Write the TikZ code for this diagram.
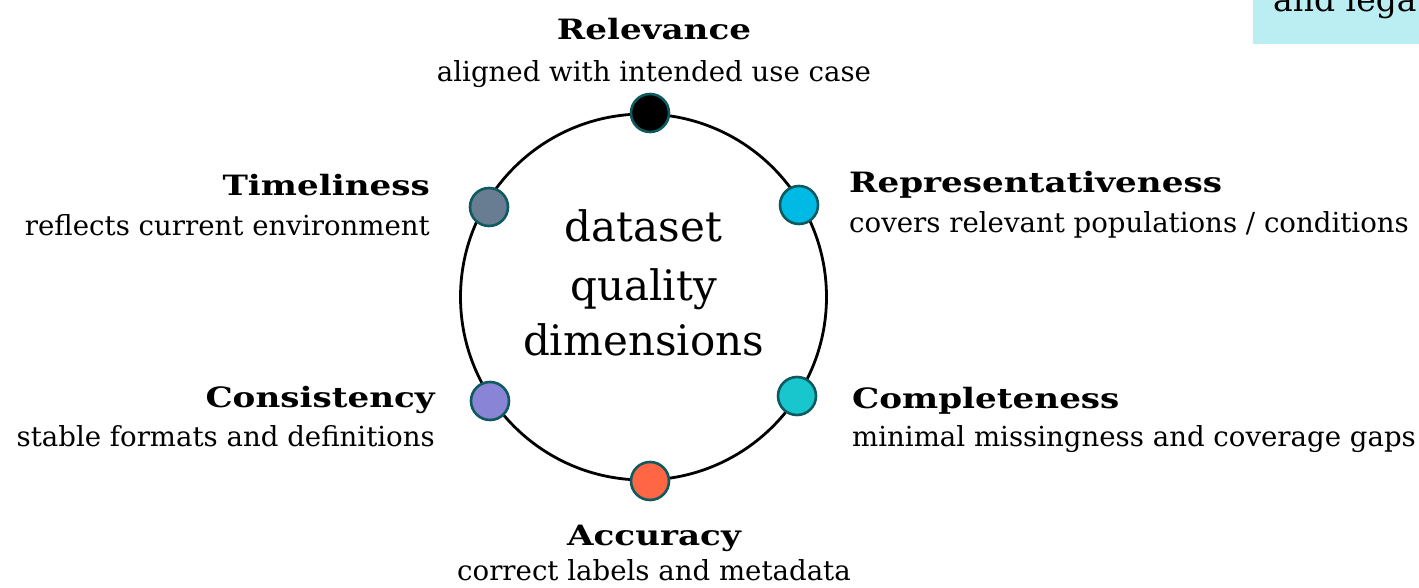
\documentclass[tikz,border=0pt]{standalone}
\usepackage{fontspec}
\setmainfont[BoldFeatures={FakeStretch=1.22}]{DejaVu Serif}
\definecolor{dotedge}{RGB}{14,90,94}
\definecolor{cRel}{RGB}{0,0,0}
\definecolor{cRep}{RGB}{0,186,230}
\definecolor{cCom}{RGB}{24,198,206}
\definecolor{cAcc}{RGB}{255,102,68}
\definecolor{cCon}{RGB}{138,132,214}
\definecolor{cTim}{RGB}{104,124,146}
\definecolor{boxfill}{RGB}{186,238,242}
\tikzset{
  qdot/.style={circle, draw=dotedge, line width=2.6pt, minimum size=38pt, inner sep=0pt},
  qtitle/.style={font=\fontsize{28}{32}\selectfont\bfseries, inner sep=0pt},
  qdesc/.style={font=\fontsize{27.6}{32}\selectfont, inner sep=0pt},
  qcenter/.style={font=\fontsize{42}{50}\selectfont, inner sep=0pt, anchor=base},
}
\begin{document}
\begin{tikzpicture}[x=1pt,y=-1pt]
\useasboundingbox (0,0) rectangle (1419,588);
% cropped box at top right
\begin{scope}
\clip (0,0) rectangle (1419,588);
\fill[boxfill] (1253,-20) rectangle (1440,44);
\node[font=\fontsize{33}{38}\selectfont, inner sep=0pt, anchor=base west] (legal) at (1273,12) {and lega};
\end{scope}
% ring
\node[circle, draw=black, line width=2.8pt, minimum size=366pt, inner sep=0pt] (ring) at (643.5,297) {};
% center text
\node[qcenter] (c1) at (643.5,242) {dataset};
\node[qcenter] (c2) at (643.5,300) {quality};
\node[qcenter] (c3) at (643.5,355) {dimensions};
% dots
\node[qdot, fill=cRel] (dRel) at (650,113) {};
\node[qdot, fill=cRep] (dRep) at (799,205) {};
\node[qdot, fill=cCom] (dCom) at (797,396) {};
\node[qdot, fill=cAcc] (dAcc) at (650,481) {};
\node[qdot, fill=cCon] (dCon) at (490,401) {};
\node[qdot, fill=cTim] (dTim) at (489,207) {};
% labels
\node[qtitle, anchor=base] (tRel) at (654,40) {Relevance};
\node[qdesc, anchor=base] (sRel) at (654,82) {aligned with intended use case};
\node[qtitle, anchor=base west] (tRep) at (849,193) {Representativeness};
\node[qdesc, anchor=base west] (sRep) at (849,233) {covers relevant populations / conditions};
\node[qtitle, anchor=base west] (tCom) at (852,408) {Completeness};
\node[qdesc, anchor=base west] (sCom) at (852,446) {minimal missingness and coverage gaps};
\node[qtitle, anchor=base] (tAcc) at (654,545) {Accuracy};
\node[qdesc, anchor=base] (sAcc) at (654,580) {correct labels and metadata};
\node[qtitle, anchor=base east] (tCon) at (435,407) {Consistency};
\node[qdesc, anchor=base east] (sCon) at (435,446) {stable formats and definitions};
\node[qtitle, anchor=base east] (tTim) at (430,196) {Timeliness};
\node[qdesc, anchor=base east] (sTim) at (430,236) {reflects current environment};
\end{tikzpicture}
\end{document}
